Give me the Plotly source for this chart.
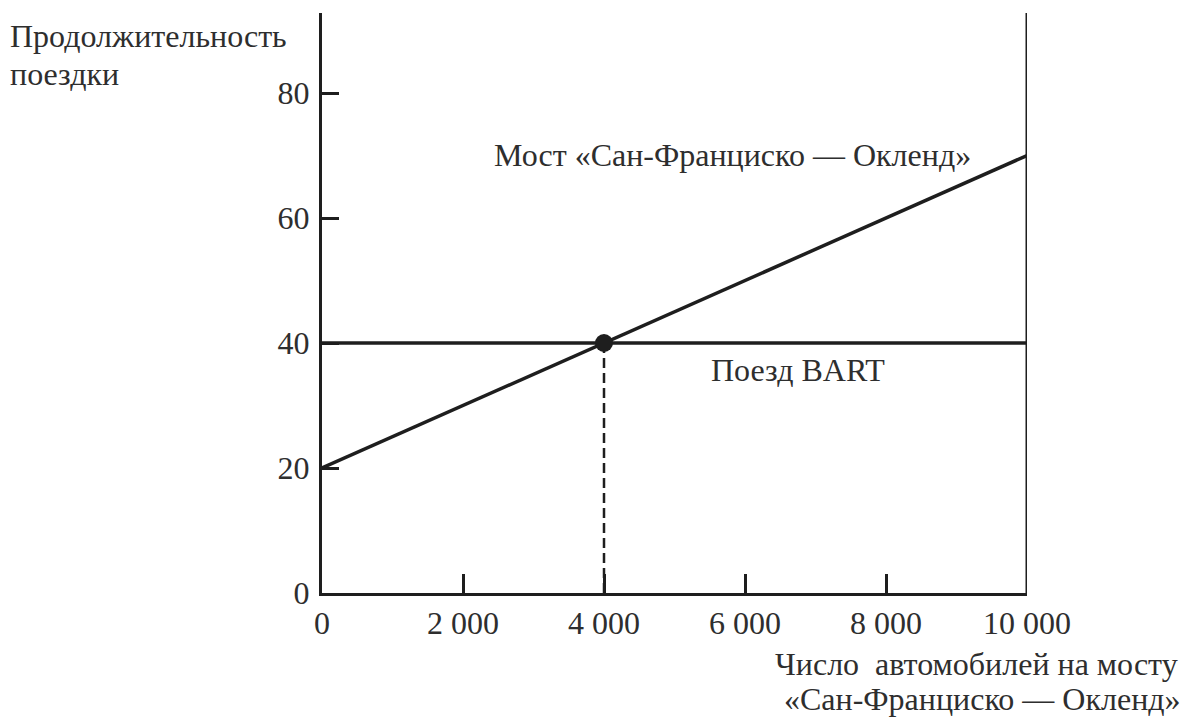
import plotly.graph_objects as go

# Data
bridge_x = [0, 10000]
bridge_y = [20, 70]
bart_x = [0, 10000]
bart_y = [40, 40]
eq_x = [4000]
eq_y = [40]
drop_x = [4000, 4000]
drop_y = [0, 40]
x_ticks = [0, 2000, 4000, 6000, 8000, 10000]
x_tick_labels = ["0", "2 000", "4 000", "6 000", "8 000", "10 000"]
y_ticks = [0, 20, 40, 60, 80]
y_tick_labels = ["0", "20", "40", "60", "80"]

FONT = "Liberation Serif"
LINE = "#1e1e1e"
TEXT = "#2e2e2e"
FS = 32

# page body has an 8px margin; plot area: x 322..1027, y 13..593 in window coords
L, T = 322 - 8, 13 - 8
PW, PH = 705, 580
W, H = 1184, 716

fig = go.Figure()
fig.add_trace(go.Scatter(x=bridge_x, y=bridge_y, mode="lines",
                         line=dict(color=LINE, width=3.5), showlegend=False))
fig.add_trace(go.Scatter(x=bart_x, y=bart_y, mode="lines",
                         line=dict(color=LINE, width=3.5), showlegend=False))
fig.add_trace(go.Scatter(x=drop_x, y=drop_y, mode="lines",
                         line=dict(color=LINE, width=2.5, dash="10px,5px"), showlegend=False))
fig.add_trace(go.Scatter(x=eq_x, y=eq_y, mode="markers",
                         marker=dict(color=LINE, size=18), showlegend=False))

# right frame line at x = 10000
fig.add_shape(type="line", xref="x", yref="paper", x0=10000, x1=10000, y0=0, y1=1,
              line=dict(color=LINE, width=3))

fig.update_xaxes(range=[0, 10000], tickvals=x_ticks, ticktext=x_tick_labels,
                 showline=True, linecolor=LINE, linewidth=3,
                 ticks="inside", ticklen=19, tickwidth=3, tickcolor=LINE,
                 ticklabelstandoff=0,
                 showgrid=False, zeroline=False,
                 tickfont=dict(family=FONT, size=FS, color=TEXT))
fig.update_yaxes(range=[0, 92.8], tickvals=y_ticks, ticktext=y_tick_labels,
                 showline=True, linecolor=LINE, linewidth=3,
                 ticks="inside", ticklen=17, tickwidth=3, tickcolor=LINE,
                 ticklabelstandoff=3,
                 showgrid=False, zeroline=False,
                 tickfont=dict(family=FONT, size=FS, color=TEXT))


def px_x(x):
    return (x - 322) / PW


def px_y(y):
    return (593 - y) / PH


ann_font = dict(family=FONT, size=FS, color=TEXT)
fig.add_annotation(x=px_x(732), y=px_y(155), xref="paper", yref="paper",
                   text="Мост «Сан-Франциско — Окленд»",
                   showarrow=False, font=ann_font, xanchor="center", yanchor="middle")
fig.add_annotation(x=px_x(798), y=px_y(370), xref="paper", yref="paper", text="Поезд BART",
                   showarrow=False, font=ann_font, xanchor="center", yanchor="middle")
fig.add_annotation(x=px_x(8), y=px_y(36), xref="paper", yref="paper",
                   text="Продолжительность", showarrow=False, font=ann_font,
                   xanchor="left", yanchor="middle")
fig.add_annotation(x=px_x(8), y=px_y(74), xref="paper", yref="paper",
                   text="поездки", showarrow=False, font=ann_font,
                   xanchor="left", yanchor="middle")
fig.add_annotation(x=px_x(1180), y=px_y(664), xref="paper", yref="paper",
                   text="Число  автомобилей на мосту", showarrow=False, font=ann_font,
                   xanchor="right", yanchor="middle")
fig.add_annotation(x=px_x(1183), y=px_y(699), xref="paper", yref="paper",
                   text="«Сан-Франциско — Окленд»", showarrow=False, font=ann_font,
                   xanchor="right", yanchor="middle")

fig.update_layout(width=W, height=H,
                  margin=dict(l=L, r=W - L - PW, t=T, b=H - T - PH, pad=0),
                  paper_bgcolor="white", plot_bgcolor="white")

fig.write_html("out.html")
